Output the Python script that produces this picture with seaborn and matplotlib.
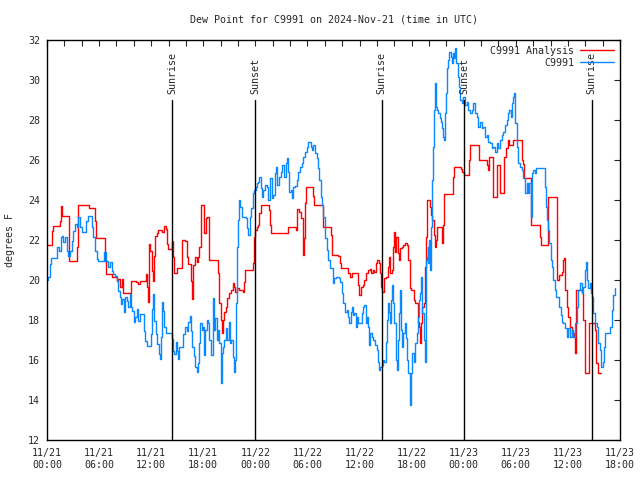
import numpy as np
import pandas as pd
import seaborn as sns
import matplotlib
matplotlib.use("Agg")
import matplotlib.pyplot as plt
import matplotlib.dates as mdates


# hours since 2024-11-21 00:00 UTC, dew point in F
obs_hours = [
    0.0, 0.15, 0.35, 0.46, 0.92, 1.11, 1.38, 1.57, 1.69, 1.88, 2.07, 2.27, 2.46, 2.65, 2.84, 3.03,
    3.23, 3.42, 3.61, 3.80, 4.0, 4.30, 4.45, 4.69, 4.95, 5.15, 5.34, 5.53, 5.72, 5.91, 6.30, 6.61,
    6.80, 7.07, 7.26, 7.45, 7.64, 7.83, 8.03, 8.22, 8.41, 8.53, 8.68, 8.83, 8.99, 9.18, 9.37, 9.56,
    9.68, 9.83, 9.98, 10.14, 10.33, 10.52, 10.71, 10.98, 11.14, 11.29, 11.48, 11.79, 11.98, 12.14,
    12.25, 12.37, 12.52, 12.71, 12.87, 12.98, 13.10, 13.21, 13.40, 13.52, 13.67, 14.29, 14.40, 14.48,
    14.63, 14.82, 14.94, 15.05, 15.21, 15.44, 15.71, 15.90, 16.09, 16.28, 16.51, 16.59, 16.74, 16.94,
    17.08, 17.24, 17.39, 17.55, 17.62, 17.81, 17.93, 18.08, 18.20, 18.39, 18.58, 18.70, 18.85, 19.04,
    19.16, 19.27, 19.39, 19.54, 19.73, 19.85, 20.0, 20.12, 20.23, 20.39, 20.58, 20.77, 20.96, 21.08,
    21.23, 21.39, 21.54, 21.65, 21.77, 21.92, 22.04, 22.15, 22.23, 22.42, 22.92, 23.08, 23.19, 23.38,
    23.54, 23.69, 23.88, 24.04, 24.15, 24.30, 24.46, 24.61, 24.76, 24.92, 25.11, 25.30, 25.49, 25.69,
    25.88, 26.07, 26.26, 26.38, 26.53, 26.72, 26.92, 27.11, 27.30, 27.49, 27.61, 27.76, 27.91, 28.07,
    28.22, 28.38, 28.57, 28.76, 28.95, 29.14, 29.34, 29.53, 29.72, 29.91, 30.03, 30.22, 30.37, 30.53,
    30.68, 30.87, 31.06, 31.26, 31.37, 31.52, 31.68, 31.83, 32.02, 32.21, 32.41, 32.60, 32.91, 33.06,
    33.29, 33.67, 33.76, 33.95, 34.14, 34.33, 34.52, 34.72, 34.83, 34.98, 35.10, 35.22, 35.41, 35.56,
    35.71, 35.87, 36.06, 36.25, 36.44, 36.56, 36.71, 36.83, 36.94, 37.10, 37.21, 37.40, 37.60, 37.79,
    37.98, 38.10, 38.25, 38.40, 38.56, 38.71, 38.86, 39.02, 39.13, 39.25, 39.40, 39.52, 39.63, 39.79,
    39.90, 40.02, 40.17, 40.28, 40.40, 40.55, 40.67, 40.78, 40.94, 41.05, 41.24, 41.36, 41.47, 41.63,
    41.78, 41.94, 42.09, 42.24, 42.40, 42.59, 42.70, 42.86, 42.97, 43.09, 43.24, 43.39, 43.55, 43.63,
    43.74, 43.86, 43.93, 44.05, 44.16, 44.24, 44.32, 44.39, 44.47, 44.55, 44.62, 44.70, 44.82, 44.93,
    45.09, 45.24, 45.39, 45.55, 45.66, 45.78, 45.85, 45.97, 46.08, 46.24, 46.35, 46.51, 46.62, 46.74,
    46.85, 47.0, 47.16, 47.31, 47.47, 47.62, 47.77, 47.97, 48.16, 48.35, 48.54, 48.73, 48.92, 49.11,
    49.31, 49.50, 49.69, 49.88, 50.07, 50.27, 50.46, 50.65, 50.84, 51.03, 51.23, 51.42, 51.61, 51.80,
    51.99, 52.19, 52.38, 52.57, 52.76, 52.95, 53.15, 53.26, 53.42, 53.57, 53.72, 53.84, 53.95, 54.11,
    54.30, 54.49, 54.68, 54.87, 55.07, 55.26, 55.41, 55.57, 55.72, 55.83, 56.03, 56.18, 56.33, 57.26,
    57.37, 57.49, 57.64, 57.75, 57.87, 58.02, 58.18, 58.33, 58.52, 58.64, 58.91, 59.02, 59.18, 59.33,
    59.48, 59.67, 59.87, 60.06, 60.25, 60.44, 60.63, 60.83, 61.02, 61.21, 61.40, 61.59, 61.79, 61.94,
    62.06, 62.17, 62.36, 62.55, 62.71, 62.82, 62.94, 63.13, 63.32, 63.51, 63.71, 63.86, 64.01, 64.17,
    64.32, 64.67, 64.86, 65.05, 65.24, 65.40,
]
obs_vals = [
    20.0, 20.13, 20.8, 21.1, 21.1, 21.63, 21.47, 22.13, 22.2, 21.88, 22.17, 21.47, 21.2, 21.47, 21.97, 22.47,
    22.8, 22.63, 23.13, 22.63, 22.38, 22.38, 22.97, 23.22, 23.22, 22.63, 22.13, 21.47, 21.05, 20.97, 20.97, 21.38,
    20.97, 20.63, 20.88, 20.47, 20.3, 20.22, 19.97, 19.47, 19.13, 18.8, 19.05, 18.38, 19.13, 18.97, 18.63, 19.3,
    18.63, 18.47, 17.88, 18.13, 18.55, 17.97, 18.3, 18.3, 17.47, 16.97, 16.72, 16.72, 17.3, 18.55,
    19.3, 17.97, 17.3, 16.8, 16.3, 16.05, 17.13, 18.88, 18.47, 17.63, 17.33, 17.33, 17.05, 16.47,
    16.3, 16.88, 16.47, 16.05, 16.63, 16.63, 17.3, 17.63, 17.47, 17.88, 18.22, 17.47, 16.63, 16.22,
    15.67, 15.42, 15.83, 16.83, 17.83, 17.5, 17.67, 16.25, 17.5, 18.0, 17.83, 17.0, 16.25, 16.25,
    19.08, 17.5, 18.08, 17.0, 17.5, 16.83, 14.83, 16.33, 16.67, 17.0, 17.58, 17.0, 17.92, 16.83,
    17.0, 16.17, 15.42, 16.0, 18.83, 21.67, 23.0, 24.0, 23.67, 23.17, 23.12, 22.58, 22.25, 23.17,
    23.58, 24.33, 24.5, 24.67, 24.83, 24.92, 25.17, 24.58, 24.17, 24.5, 24.75, 24.63, 24.0, 25.08,
    24.08, 24.25, 25.33, 25.67, 24.75, 25.17, 25.42, 25.75, 25.17, 25.87, 26.12, 25.42, 24.42, 24.5,
    24.08, 24.67, 24.7, 25.0, 25.42, 25.67, 25.83, 26.17, 26.42, 26.67, 26.88, 26.88, 26.67, 26.5,
    26.75, 26.33, 26.08, 25.58, 25.0, 24.17, 23.75, 23.17, 22.08, 21.5, 21.0, 20.58, 19.83, 20.08,
    20.17, 20.08, 19.92, 19.33, 18.83, 18.42, 18.5, 18.17, 17.83, 18.42, 18.67, 18.25, 18.33, 17.67,
    18.17, 17.83, 17.83, 18.33, 18.67, 18.75, 17.83, 18.17, 17.67, 16.75, 17.33, 17.17, 17.0, 16.75,
    16.5, 15.92, 15.5, 15.67, 15.75, 16.0, 15.92, 16.92, 18.0, 18.83, 18.42, 17.83, 19.0, 19.75,
    18.83, 17.83, 16.0, 15.5, 17.0, 18.33, 19.5, 17.5, 16.67, 17.33, 17.83, 17.08, 16.0, 15.33,
    13.75, 15.33, 16.33, 15.92, 16.83, 17.33, 18.17, 19.0, 19.33, 20.17, 18.33, 17.0, 15.92, 21.0,
    21.17, 21.67, 20.83, 22.0, 20.5, 22.67, 23.17, 25.0, 26.67, 27.5, 28.5, 29.87, 28.67, 28.5,
    28.33, 28.08, 27.92, 27.58, 27.17, 27.0, 28.33, 29.33, 30.58, 31.0, 31.42, 31.17, 30.83, 31.33,
    31.08, 31.58, 30.83, 30.17, 29.67, 29.0, 28.83, 29.17, 28.75, 28.92, 28.5, 28.33, 28.5, 28.83,
    28.33, 28.17, 27.67, 27.92, 27.58, 27.67, 27.17, 27.25, 26.92, 26.83, 26.58, 26.67, 26.42, 26.83,
    26.58, 27.0, 27.25, 27.42, 27.75, 28.0, 28.33, 28.5, 28.17, 28.83, 29.17, 29.33, 27.83, 26.67,
    25.83, 25.67, 25.5, 25.08, 24.33, 24.83, 24.33, 24.83, 23.17, 25.33, 25.5, 25.33, 25.58, 25.58,
    24.67, 23.67, 23.0, 22.5, 21.83, 21.0, 20.67, 20.0, 19.5, 19.17, 19.17, 18.67, 18.25, 17.92,
    17.83, 17.58, 17.17, 17.58, 17.17, 17.5, 17.17, 17.83, 18.67, 19.5, 19.83, 19.33, 19.67, 20.5,
    20.92, 20.0, 19.58, 19.83, 19.33, 19.17, 18.33, 17.83, 17.67, 16.83, 16.5, 15.67, 15.92, 16.67,
    17.33, 17.33, 17.67, 18.5, 19.25, 19.58,
]

anl_hours = [
    0.0, 0.46, 0.54, 0.73, 1.38, 1.46, 1.61, 1.77, 2.46, 2.57, 3.42, 3.49, 3.61, 4.69, 4.84, 5.45,
    5.53, 5.61, 6.61, 6.72, 6.80, 7.33, 7.45, 7.83, 8.03, 8.22, 8.41, 8.60, 8.72, 8.79, 9.56, 9.68,
    10.22, 10.45, 10.71, 11.29, 11.41, 11.56, 11.68, 11.75, 11.91, 12.06, 12.21, 12.37, 12.48, 12.64,
    12.83, 13.14, 13.29, 13.52, 13.67, 13.79, 13.90, 14.29, 14.44, 14.56, 14.67, 14.94, 15.44, 15.59,
    15.90, 16.09, 16.21, 16.47, 16.59, 16.67, 16.78, 16.85, 17.05, 17.24, 17.39, 17.55, 17.70, 18.01,
    18.12, 18.27, 18.47, 18.66, 19.62, 19.73, 19.85, 20.0, 20.12, 20.23, 20.43, 20.62, 20.77, 21.0,
    21.23, 21.39, 21.54, 21.65, 21.85, 22.15, 22.54, 22.69, 22.81, 23.57, 23.69, 23.80, 23.88, 24.0,
    24.15, 24.34, 24.46, 24.61, 25.42, 25.53, 25.69, 25.76, 27.61, 27.72, 28.57, 28.68, 28.84, 29.07,
    29.26, 29.45, 29.53, 29.64, 29.76, 29.87, 30.56, 30.68, 30.76, 31.64, 31.75, 31.83, 32.52, 32.68,
    32.83, 33.56, 33.64, 33.76, 33.87, 34.52, 34.72, 34.91, 35.10, 35.68, 35.87, 35.98, 36.18, 36.37,
    36.56, 36.71, 36.94, 37.17, 37.33, 37.52, 37.71, 37.87, 38.06, 38.25, 38.36, 38.48, 38.56, 38.75,
    38.86, 39.02, 39.25, 39.40, 39.52, 39.71, 39.82, 39.98, 40.09, 40.25, 40.40, 40.51, 40.67, 40.86,
    41.05, 41.24, 41.44, 41.63, 41.78, 41.94, 42.13, 42.24, 42.40, 42.59, 42.70, 42.86, 43.01, 43.09,
    43.24, 43.39, 43.55, 43.66, 43.78, 43.93, 44.09, 44.24, 44.39, 44.55, 44.70, 44.78, 44.89, 45.39,
    45.47, 45.55, 45.62, 45.70, 46.70, 46.81, 46.93, 47.47, 47.70, 47.85, 48.0, 48.54, 48.66, 48.77,
    49.57, 49.77, 50.46, 50.65, 50.77, 50.96, 51.30, 51.42, 51.69, 51.80, 52.07, 52.19, 52.57, 52.69,
    52.88, 53.07, 53.26, 53.53, 53.72, 54.57, 54.68, 54.80, 54.95, 55.57, 55.72, 55.80, 56.60, 56.79,
    56.87, 57.64, 57.75, 58.71, 58.79, 59.02, 59.29, 59.48, 59.60, 59.71, 59.87, 60.06, 60.25, 60.44,
    60.71, 60.83, 60.94, 61.48, 61.59, 61.79, 61.98, 62.36, 62.48, 62.94, 63.13, 63.25, 63.44, 63.82,
]
anl_vals = [
    21.77, 21.77, 22.47, 22.72, 22.72, 22.97, 23.72, 23.22, 23.22, 20.97, 20.97, 21.63, 23.75, 23.75, 23.6, 23.6,
    22.97, 22.1, 22.1, 20.97, 20.3, 20.3, 20.13, 20.13, 19.97, 20.05, 19.63, 20.05, 19.63, 19.33, 19.33, 19.93,
    19.88, 19.8, 19.97, 19.97, 20.3, 19.63, 18.88, 21.8, 21.47, 20.47, 19.97, 21.22, 22.22, 22.33,
    22.5, 22.5, 22.38, 22.72, 22.55, 21.8, 21.55, 21.55, 21.97, 21.13, 20.33, 20.6, 20.6, 22.0,
    21.93, 21.13, 20.8, 20.8, 19.97, 19.05, 19.97, 20.75, 21.17, 20.92, 21.17, 21.67, 23.75, 23.75,
    22.33, 23.08, 23.17, 21.0, 21.0, 20.33, 18.83, 18.0, 17.33, 18.0, 18.42, 18.67, 19.08, 19.33,
    19.5, 19.83, 19.67, 19.42, 19.58, 19.5, 19.42, 19.92, 20.5, 20.5, 20.83, 21.42, 22.17, 22.5,
    22.67, 22.75, 23.33, 23.75, 23.75, 23.5, 22.75, 22.37, 22.37, 22.63, 22.63, 22.5, 23.55, 23.42,
    23.08, 22.08, 21.25, 22.08, 23.83, 24.63, 24.63, 24.2, 23.75, 23.75, 23.17, 22.63, 22.63, 22.25,
    21.25, 21.22, 21.2, 20.83, 20.58, 20.58, 20.33, 20.13, 20.33, 20.33, 19.75, 19.25, 19.67, 19.75,
    20.0, 20.33, 20.5, 20.53, 20.33, 20.5, 20.42, 20.83, 21.0, 20.83, 20.33, 19.67, 19.42, 19.42,
    20.08, 20.17, 20.67, 21.17, 20.33, 20.5, 21.67, 22.42, 21.42, 22.17, 21.33, 21.0, 21.58, 21.67,
    21.75, 21.87, 21.75, 21.0, 19.58, 19.5, 19.5, 19.0, 18.83, 18.83, 17.92, 17.67, 16.83, 17.83,
    18.67, 18.83, 20.67, 22.17, 24.0, 24.0, 23.67, 23.25, 23.0, 22.25, 21.67, 22.0, 22.67, 22.67,
    22.5, 21.83, 22.75, 24.3, 24.3, 25.17, 25.67, 25.67, 25.53, 25.42, 25.25, 25.25, 26.0, 26.75,
    26.75, 26.0, 26.0, 25.75, 25.5, 26.13, 26.13, 24.17, 24.17, 25.75, 25.75, 24.33, 24.33, 26.17,
    26.58, 27.0, 26.75, 26.75, 27.0, 27.0, 26.0, 25.8, 25.08, 25.08, 24.5, 22.75, 22.75, 22.17,
    21.75, 21.75, 24.17, 24.17, 20.0, 20.25, 20.42, 21.0, 21.08, 19.5, 18.67, 18.17, 17.67, 17.33,
    17.17, 16.33, 19.5, 19.5, 19.33, 18.0, 15.33, 15.33, 17.83, 17.83, 17.5, 15.83, 15.33, 15.33,
]

sun_hours = [14.40, 24.0, 38.56, 48.08, 62.75]
sun_labels = ["Sunrise", "Sunset", "Sunrise", "Sunset", "Sunrise"]

start = pd.Timestamp("2024-11-21 00:00")
end = pd.Timestamp("2024-11-23 18:00")

anl_df = pd.DataFrame({"time": start + pd.to_timedelta(anl_hours, unit="h"), "dewpt": anl_vals})
obs_df = pd.DataFrame({"time": start + pd.to_timedelta(obs_hours, unit="h"), "dewpt": obs_vals})

sns.set_style("white")
plt.rcParams["font.family"] = ["DejaVu Sans Mono"]
fs = 7.2

fig = plt.figure(figsize=(6.4, 4.8), dpi=100)
ax = fig.add_axes([47 / 640, 40 / 480, 573 / 640, 400 / 480])

sns.lineplot(data=anl_df, x="time", y="dewpt", ax=ax, color="#ff0000", lw=1.0,
             drawstyle="steps-post", estimator=None, label="C9991 Analysis")
sns.lineplot(data=obs_df, x="time", y="dewpt", ax=ax, color="#0a88ff", lw=1.0,
             drawstyle="steps-post", estimator=None, label="C9991")

# sunrise / sunset markers
for h, lab in zip(sun_hours, sun_labels):
    t = start + pd.Timedelta(hours=h)
    ax.plot([t, t], [12, 29], color="black", lw=1.0)
    ax.text(t, 29.3, lab, rotation=90, ha="center", va="bottom", fontsize=fs)

ax.set_xlim(start, end)
ax.set_ylim(12, 32)
ax.set_yticks(np.arange(12, 33, 2))
ax.xaxis.set_major_locator(mdates.HourLocator(byhour=[0, 6, 12, 18]))
ax.xaxis.set_minor_locator(mdates.HourLocator(interval=2))
ax.xaxis.set_major_formatter(mdates.DateFormatter("%m/%d\n%H:%M"))
ax.tick_params(which="both", direction="in", top=True, right=True, length=4, width=0.8,
               labelsize=fs)
ax.tick_params(axis="x", pad=6)
ax.tick_params(axis="y", pad=5)
for s in ax.spines.values():
    s.set_color("black")
    s.set_linewidth(1.0)
ax.set_xlabel("")
ax.set_ylabel("")

fig.text(333.5 / 640, 1 - 19 / 480, "Dew Point for C9991 on 2024-Nov-21 (time in UTC)",
         ha="center", va="center", fontsize=fs)
fig.text(10 / 640, 0.5, "degrees F", rotation=90, ha="center", va="center", fontsize=fs)

ax.legend(loc="upper right", frameon=False, markerfirst=False, handlelength=3.4,
          handletextpad=0.6, labelspacing=0.2, borderaxespad=0.2, fontsize=fs)

fig.savefig("out.png", dpi=100)
